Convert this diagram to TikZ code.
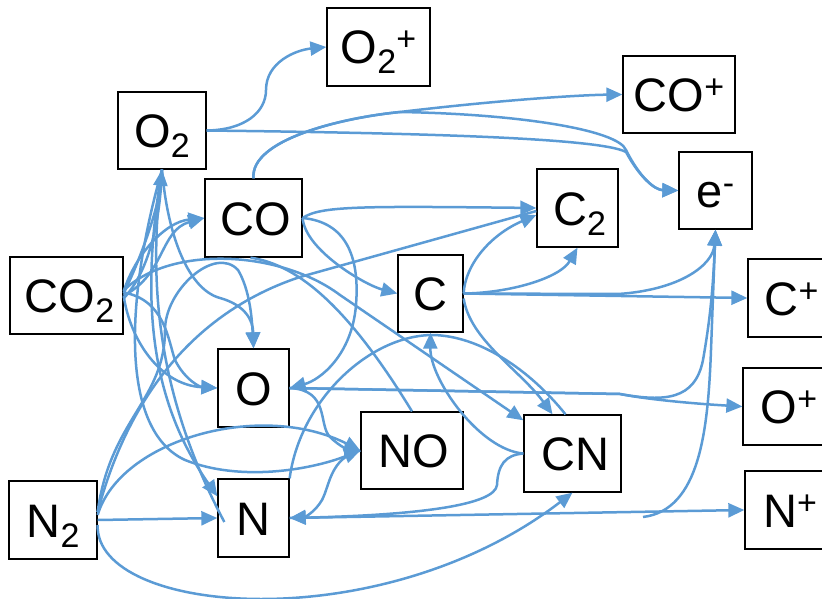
\documentclass[tikz,border=0pt]{standalone}
\usepackage{fontspec}
\setmainfont{Liberation Sans}
\usetikzlibrary{arrows.meta}
\definecolor{lineblue}{RGB}{91,155,213}
\newcommand\sbs[1]{\raisebox{-10pt}[0pt][0pt]{\fontsize{34}{34}\selectfont #1}}
\newcommand\sps[1]{\raisebox{13pt}[0pt][0pt]{\fontsize{34}{34}\selectfont #1}}
\begin{document}
\begin{tikzpicture}[x=1pt,y=-1pt,
  box/.style={draw=black, line width=1.3pt, inner sep=0pt, font={\fontsize{47}{50}\selectfont}, text height=34pt, text depth=0pt},
  ed/.style={draw=lineblue, line width=2.5pt},
  arr/.style={ed, -{Triangle[length=16pt,width=14pt]}}]
\useasboundingbox (0,0) rectangle (822,599);
% nodes
\node[box, minimum width=103pt, minimum height=78pt] (O2p) at (378.5,47) {O\sbs{2}\sps{+}};
\node[box, minimum width=112pt, minimum height=77pt] (COp) at (679,94.5) {CO\sps{+}};
\node[box, minimum width=88pt, minimum height=77pt] (O2) at (162,130.5) {O\sbs{2}};
\node[box, minimum width=73pt, minimum height=77pt] (em) at (715.5,190.5) {e\sps{-}};
\node[box, minimum width=97pt, minimum height=78pt] (CO) at (253.5,218) {\hspace{4pt}CO};
\node[box, minimum width=81pt, minimum height=78pt] (C2) at (577.5,208) {\hspace{4pt}C\sbs{2}};
\node[box, minimum width=113pt, minimum height=77pt] (CO2) at (66.5,295.5) {\hspace{6pt}CO\sbs{2}};
\node[box, minimum width=65pt, minimum height=77pt] (C) at (430.5,293.5) {C};
\node[box, minimum width=87pt, minimum height=78pt] (Cp) at (791.5,298) {C\sps{+}\hspace{8pt}};
\node[box, minimum width=71pt, minimum height=78pt] (O) at (253.5,388) {O};
\node[box, minimum width=92pt, minimum height=77pt] (Op) at (789,406.5) {O\sps{+}\hspace{8pt}};
\node[box, minimum width=102pt, minimum height=77pt] (NO) at (412,450.5) {\hspace{4pt}NO};
\node[box, minimum width=97pt, minimum height=77pt] (CN) at (572.5,453.5) {\hspace{6pt}CN};
\node[box, minimum width=90pt, minimum height=78pt] (Np) at (790,510) {N\sps{+}\hspace{8pt}};
\node[box, minimum width=88pt, minimum height=78pt] (N2) at (53,520) {N\sbs{2}};
\node[box, minimum width=71pt, minimum height=78pt] (N) at (253.5,518) {N};
\coordinate (nh) at (643,517);
% connectors
\draw[arr] (O2.east) .. controls (245,130) and (266,112) .. (266,90) .. controls (266,62) and (296,50) .. (O2p.west);
\draw[arr] (O2.east) .. controls (420,133) and (600,138) .. (626,152) .. controls (640,178) and (655,190) .. (em.west);
\draw[arr] (CO.north) .. controls (250,140) and (340,118) .. (400,112) .. controls (500,100) and (580,95) .. (COp.west);
\draw[arr] (CO.north) .. controls (250,140) and (340,118) .. (400,112) .. controls (520,114) and (618,130) .. (626,150) .. controls (640,178) and (655,190) .. (em.west);
\draw[arr] (CO.east) .. controls (320,206) and (360,206) .. (C2.west);
\draw[arr] (CO.east) .. controls (305,250) and (365,285) .. (C.west);
\draw[arr] (CO.east) .. controls (345,222) and (360,255) .. (356,305) .. controls (352,355) and (320,380) .. (O.east);
\draw[arr] ([yshift=4pt]CO2.east) .. controls (135,255) and (165,222) .. (CO.west);
\draw[arr] (CO2.east) .. controls (165,275) and (160,230) .. (CO.west);
\draw[arr] ([yshift=2pt]CO2.east) .. controls (140,260) and (158,210) .. (O2.south);
\draw[ed] ([yshift=-3pt]CO2.east) .. controls (150,270) and (160,220) .. (O2.south);
\draw[arr] (CO2.east) .. controls (130,340) and (160,385) .. (O.west);
\draw[arr] ([yshift=3pt]CO2.east) .. controls (165,300) and (168,340) .. (175,360) .. controls (185,380) and (200,387) .. (O.west);
\draw[arr] (O2.south) .. controls (168,240) and (190,290) .. (220,298) .. controls (245,305) and (253,320) .. (O.north);
\draw[arr] ([yshift=5pt]CO2.east) .. controls (170,245) and (280,250) .. (340,295) -- ([yshift=-6pt]CN.north west);
\draw[arr] ([yshift=8pt]N2.east) .. controls (110,420) and (165,400) .. (165,330) .. controls (165,290) and (215,245) .. (238,270) .. controls (250,290) and (252,320) .. (O.north);
\draw[ed] ([xshift=-3pt]CO.south) .. controls (300,265) and (350,310) .. (NO.north);
\draw[arr] (N2.east) -- (N.west);
\draw[arr] ([yshift=5pt]N2.east) .. controls (120,440) and (260,400) .. (NO.west);
\draw[arr] ([yshift=-5pt]N2.east) .. controls (95,615) and (380,640) .. (CN.south);
\draw[ed] ([yshift=8pt]N2.east) .. controls (130,390) and (200,310) .. (300,277) -- ([yshift=-3pt]C2.west);
\draw[arr] (O2.south) .. controls (125,300) and (120,430) .. (185,460) .. controls (240,482) and (310,470) .. (NO.west);
\draw[arr] (O2.south) .. controls (140,300) and (150,400) .. ([yshift=-18pt]N.north west);
\draw[ed] (O2.south) .. controls (145,300) and (165,410) .. ([xshift=7pt,yshift=-4pt]N.west);
\draw[arr] (O.east) .. controls (330,390) and (318,425) .. (330,437) .. controls (340,447) and (350,450) .. (NO.west);
\draw[arr] (NO.west) .. controls (330,458) and (330,485) .. (322,500) .. controls (315,512) and (305,517) .. (N.east);
\draw[arr] (CN.west) .. controls (505,455) and (498,465) .. (497,485) .. controls (495,505) and (420,515) .. (N.east);
\draw[arr] (N.east) -- (Np.west);
\draw[arr] (nh) .. controls (700,510) and (708,430) .. (711,350) -- (em.south);
\draw[arr] (O.east) -- (620,394) .. controls (650,400) and (700,404) .. (Op.west);
\draw[arr] (O.east) -- (620,394) .. controls (665,402) and (695,400) .. (703,360) .. controls (710,320) and (713,290) .. (em.south);
\draw[arr] (C.east) -- (Cp.west);
\draw[arr] (C.east) -- (618,294) .. controls (680,290) and (713,265) .. (em.south);
\draw[arr] (C.east) .. controls (465,265) and (490,235) .. ([yshift=-7pt]C2.west);
\draw[arr] (C.east) .. controls (510,293) and (560,278) .. (C2.south);
\draw[arr] ([yshift=-5pt]C.east) .. controls (470,340) and (520,370) .. ([xshift=-20pt]CN.north);
\draw[ed] (N.north east) .. controls (300,400) and (370,335) .. (433,335) .. controls (480,336) and (530,370) .. ([xshift=-7pt]CN.north);
\draw[arr] (CN.west) .. controls (480,450) and (430,380) .. (C.south);
\end{tikzpicture}
\end{document}
